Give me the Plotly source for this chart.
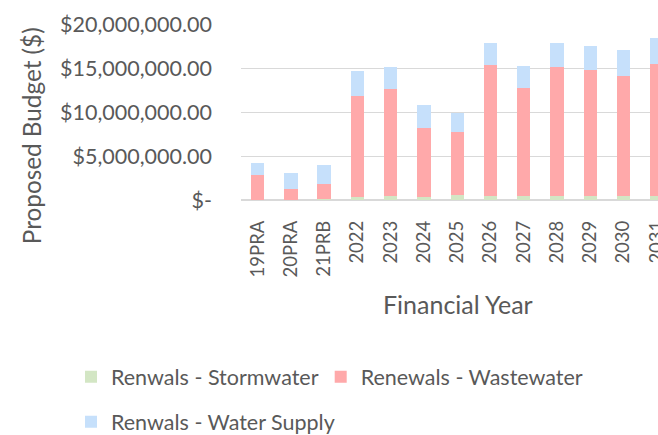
import plotly.graph_objects as go

categories = ["19PRA", "20PRA", "21PRB", "2022", "2023", "2024", "2025",
              "2026", "2027", "2028", "2029", "2030", "2031"]
stormwater = [20000, 20000, 140000, 320000, 510000, 360000, 540000,
              510000, 400000, 500000, 470000, 400000, 470000]
wastewater = [2860000, 1200000, 1650000, 11550000, 12080000, 7810000, 7140000,
              14840000, 12380000, 14650000, 14270000, 13730000, 15020000]
water_supply = [1320000, 1820000, 2150000, 2800000, 2530000, 2640000, 2260000,
                2450000, 2490000, 2690000, 2760000, 2870000, 2950000]
y_tickvals = [0, 5000000, 10000000, 15000000, 20000000]
y_ticktext = ["$-", "$5,000,000.00", "$10,000,000.00", "$15,000,000.00", "$20,000,000.00"]

W, H = 658, 435
FONT = "Lato"
GREY = "#595959"
L, R, T, B = 241, 0, 24, 234.5
LEG_OFF = 40

fig = go.Figure()
fig.add_trace(go.Bar(x=categories, y=stormwater, name="Renwals - Stormwater",
                     marker=dict(color="#d3e6c4", line=dict(width=0)), showlegend=True))
fig.add_trace(go.Bar(x=categories, y=wastewater, name="Renewals - Wastewater",
                     marker=dict(color="#ffa9aa", line=dict(width=0)), legend="legend2",
                     showlegend=True))
fig.add_trace(go.Bar(x=categories, y=water_supply, name="Renwals - Water Supply",
                     marker=dict(color="#c6e0fb", line=dict(width=0)), legend="legend3",
                     showlegend=True))


def leg(xpx, ypx):
    return dict(orientation="h", xref="container", yref="container",
                x=(xpx - LEG_OFF) / W, y=1 - ypx / H, xanchor="left", yanchor="middle",
                font=dict(size=21.5, color=GREY, family=FONT), bgcolor="rgba(0,0,0,0)")


fig.update_layout(
    width=W, height=H, showlegend=True,
    margin=dict(l=L, r=R, t=T, b=B, pad=0, autoexpand=False),
    barmode="stack", bargap=0.6,
    plot_bgcolor="white", paper_bgcolor="white",
    font=dict(family=FONT, color=GREY, size=18),
    xaxis=dict(range=[-0.5, 12.04], showgrid=False, tickangle=-90, automargin=False,
               ticks="", tickfont=dict(size=18.5, color=GREY), showline=False,
               ticklabelstandoff=16),
    yaxis=dict(range=[0, 20000000], tickvals=y_tickvals, ticktext=y_ticktext,
               automargin=False,
               showgrid=True, gridcolor="#d9d9d9", gridwidth=1.3,
               zeroline=True, zerolinecolor="#d9d9d9", zerolinewidth=1.5,
               tickfont=dict(size=21.5, color=GREY), ticklabelstandoff=28),
    legend=leg(111, 376.7),
    legend2=leg(360.7, 376.7),
    legend3=leg(111, 421.7),
    annotations=[
        dict(text="Financial Year", xref="paper", yref="paper",
             x=(457.5 - L) / (W - L), y=(H - B - 305) / (H - T - B),
             showarrow=False, xanchor="center", yanchor="middle",
             font=dict(size=25, color=GREY)),
        dict(text="Proposed Budget ($)", xref="paper", yref="paper", textangle=-90,
             x=(31 - L) / (W - L), y=(H - B - 136.5) / (H - T - B),
             showarrow=False, xanchor="center", yanchor="middle",
             font=dict(size=24.3, color=GREY)),
    ],
)

fig.write_html("out.html", config={"displayModeBar": False},
               post_script="document.body.style.margin='0px';")
